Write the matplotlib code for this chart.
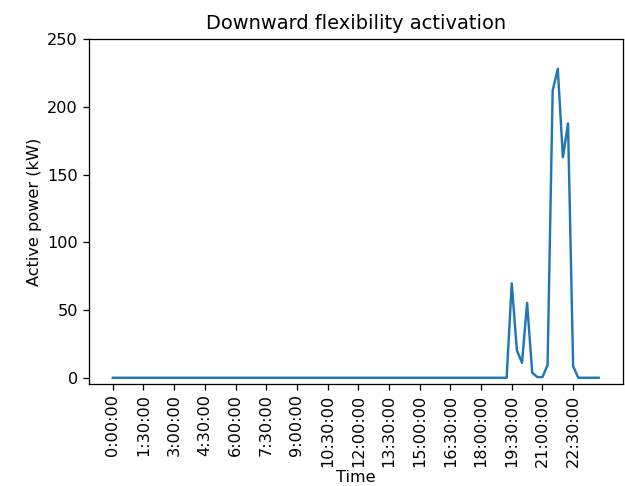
import matplotlib
matplotlib.use("Agg")
import matplotlib.pyplot as plt

# 15-minute time steps over one day
times = ["%d:%02d:00" % (m // 60, m % 60) for m in range(0, 24 * 60, 15)]

# downward flexibility activation (kW), zero outside the evening window
power = [0] * 78 + [69.7, 20.4, 11, 55.3, 3.7, 0.5, 0.5, 9.4,
                    212, 228, 162.7, 187.7, 8.6, 0, 0, 0, 0, 0]

s = 1.16  # reference looks rendered a bit larger than dpi 100
plt.rcParams["font.size"] = 10 * s
plt.rcParams["axes.linewidth"] = 0.8 * s
plt.rcParams["xtick.major.size"] = 3.5 * s
plt.rcParams["ytick.major.size"] = 3.5 * s
plt.rcParams["xtick.major.width"] = 0.8 * s
plt.rcParams["ytick.major.width"] = 0.8 * s

fig = plt.figure(figsize=(6.25, 4.86), dpi=100)
ax = fig.add_axes([88.5 / 625, 1 - 384 / 486, (623 - 88.5) / 625, (384 - 39) / 486])
ax.plot(range(len(power)), power, lw=1.5 * s)
ax.set_xticks(range(0, len(times), 6))
ax.set_xticklabels(times[::6], rotation=90)
ax.set_ylim(-4.6, 250)
ax.set_xlabel("Time", labelpad=2)
ax.set_ylabel("Active power (kW)")
ax.set_title("Downward flexibility activation", fontsize=12 * s, pad=6 * s)
fig.savefig("out.png", dpi=100)
